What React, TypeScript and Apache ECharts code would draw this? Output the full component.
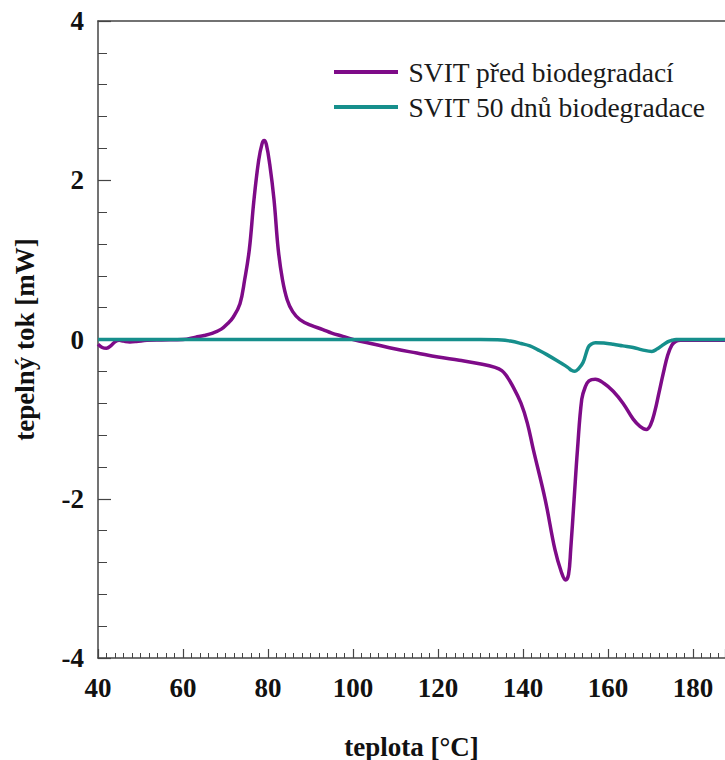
import React, { useEffect, useRef } from "react";
import * as echarts from "echarts";

const purpleName = "SVIT před biodegradací";
const tealName = "SVIT 50 dnů biodegradace";

const purpleX = [40, 41, 42, 43, 44, 45, 46, 47.5, 49, 51.5, 55, 60, 63, 65, 67, 69, 70.5, 71.8, 73.4, 74.5, 75.6, 76.7, 77.8, 78.6, 79.1, 79.6, 80.4, 81.4, 82.4, 83.4, 84.5, 85.8, 87.5, 90, 92.9, 95, 97.6, 100, 105, 110, 115, 120, 125, 130.4, 133.4, 135, 136, 137.5, 139.5, 141, 142.4, 145.2, 147.5, 149, 150, 150.7, 151.2, 152, 152.8, 153.8, 154.6, 155.5, 157, 159, 161.2, 163.5, 165.9, 167.5, 169, 170, 171, 172, 173, 174, 175, 176, 177, 180, 190];
const purpleY = [-0.06, -0.1, -0.11, -0.08, -0.03, -0.01, -0.02, -0.03, -0.025, -0.01, -0.005, 0, 0.03, 0.05, 0.08, 0.13, 0.2, 0.28, 0.45, 0.75, 1.13, 1.76, 2.25, 2.46, 2.5, 2.45, 2.2, 1.76, 1.13, 0.75, 0.5, 0.35, 0.25, 0.18, 0.125, 0.08, 0.04, 0, -0.06, -0.12, -0.17, -0.22, -0.26, -0.31, -0.35, -0.39, -0.45, -0.58, -0.8, -1.05, -1.38, -2.01, -2.64, -2.92, -3.02, -2.95, -2.64, -2.01, -1.38, -0.75, -0.6, -0.52, -0.5, -0.55, -0.65, -0.8, -1.0, -1.09, -1.13, -1.07, -0.9, -0.66, -0.42, -0.2, -0.07, -0.02, -0.01, -0.01, -0.01];

const tealX = [40, 100, 130, 135, 137, 139.5, 141.6, 143.5, 145.6, 148.7, 150.5, 151.5, 152.2, 153, 154.1, 155.3, 156, 157, 159, 161.2, 163.5, 165.9, 168, 170.3, 171.5, 172.6, 174, 175, 176, 190];
const tealY = [0, 0, 0, -0.005, -0.02, -0.05, -0.08, -0.13, -0.19, -0.29, -0.35, -0.39, -0.4, -0.37, -0.29, -0.1, -0.06, -0.04, -0.045, -0.06, -0.08, -0.1, -0.13, -0.15, -0.12, -0.08, -0.03, -0.01, 0, 0];

const xTitle = "teplota [°C]";
const yTitle = "tepelný tok [mW]";

const serif = "Liberation Serif";
const purple = "#7e0b88";
const teal = "#168f8c";
const axisColor = "#444";

export default function App() {
  const ref = useRef<HTMLDivElement>(null);
  useEffect(() => {
    if (!ref.current) return;
    const chart = echarts.init(ref.current, null, { renderer: "svg" });
    const pData = purpleX.map((x, i) => [x, purpleY[i]]);
    const tData = tealX.map((x, i) => [x, tealY[i]]);
    chart.setOption({
      animation: false,
      backgroundColor: "#fff",
      textStyle: { fontFamily: serif },
      grid: { left: 98, top: 21, bottom: 102, right: 0, outerBoundsMode: "none", containLabel: false },
      legend: {
        orient: "vertical",
        left: 329,
        top: 53,
        itemWidth: 64,
        itemHeight: 4,
        itemGap: 7,
        icon: "rect",
        data: [purpleName, tealName],
        formatter: (n: string) => "\u2009" + n,
        textStyle: {
          fontFamily: serif,
          fontSize: 27.5,
          fontWeight: "normal",
          color: "#1a1a1a",
          lineHeight: 28,
        },
      },
      xAxis: [
        {
          type: "value",
          min: 40,
          max: 187.5,
          interval: 20,
          position: "bottom",
          name: xTitle,
          nameLocation: "middle",
          nameGap: 75,
          nameTextStyle: { fontFamily: serif, fontSize: 27, fontWeight: "bold", color: "#111" },
          axisLine: { show: true, onZero: false, lineStyle: { color: axisColor, width: 1.5 } },
          axisTick: { show: true, inside: true, length: 9, lineStyle: { color: axisColor, width: 1.2 } },
          minorTick: { show: true, splitNumber: 10, length: 5, lineStyle: { color: axisColor, width: 1 } },
          axisLabel: { fontFamily: serif, fontSize: 27, fontWeight: "bold", color: "#111", margin: 16, showMaxLabel: false },
          splitLine: { show: false },
        },
        {
          type: "value",
          min: 40,
          max: 187.5,
          position: "top",
          axisLine: { show: true, onZero: false, lineStyle: { color: axisColor, width: 1.5 } },
          axisTick: { show: false },
          axisLabel: { show: false },
          splitLine: { show: false },
        },
      ],
      yAxis: {
        type: "value",
        min: -4,
        max: 4,
        interval: 2,
        name: yTitle,
        nameLocation: "middle",
        nameGap: 60,
        nameTextStyle: { fontFamily: serif, fontSize: 27, fontWeight: "bold", color: "#111" },
        axisLine: { show: true, onZero: false, lineStyle: { color: axisColor, width: 1.5 } },
        axisTick: { show: true, inside: true, length: 13, lineStyle: { color: axisColor, width: 1.2 } },
        minorTick: { show: true, splitNumber: 5, length: 9, lineStyle: { color: axisColor, width: 1 } },
        axisLabel: { fontFamily: serif, fontSize: 27, fontWeight: "bold", color: "#111", margin: 14 },
        splitLine: { show: false },
      },
      series: [
        {
          name: purpleName,
          type: "line",
          data: pData,
          showSymbol: false,
          symbol: "none",
          smooth: 0.4,
          color: purple,
          lineStyle: { color: purple, width: 3.5 },
        },
        {
          name: tealName,
          type: "line",
          data: tData,
          showSymbol: false,
          symbol: "none",
          smooth: 0.4,
          color: teal,
          lineStyle: { color: teal, width: 3.5 },
        },
      ],
    });
    return () => chart.dispose();
  }, []);
  return <div ref={ref} style={{ width: 725, height: 760, position: "absolute", left: 0, top: 0 }} />;
}
